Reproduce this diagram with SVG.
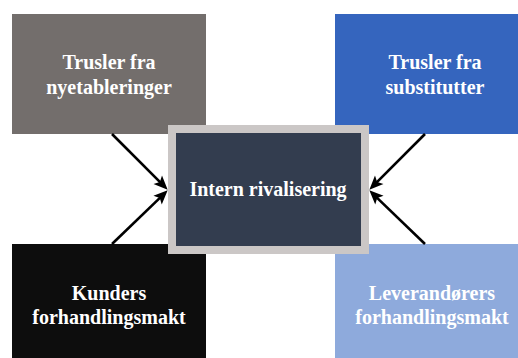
<svg xmlns="http://www.w3.org/2000/svg" width="518" height="358" viewBox="0 0 518 358">
  <defs>
    <style>
      .lbl { font-family: "Liberation Serif", "Times New Roman", serif; font-weight: bold; font-size: 20px; fill: #ffffff; text-anchor: middle; }
      .conn { stroke: #000000; stroke-width: 2.6; fill: none; marker-end: url(#head); }
    </style>
    <marker id="head" markerUnits="userSpaceOnUse" markerWidth="24" markerHeight="24" viewBox="-12 -12 24 24" refX="0" refY="0" orient="auto">
      <path d="M9,0 L-5,-6 L-2,0 L-5,6 Z" fill="#000000"/>
    </marker>
  </defs>
  <rect width="518" height="358" fill="#ffffff"/>

  <g id="nyetableringer">
    <rect x="12" y="14" width="194" height="120" fill="#736e6c"/>
    <text class="lbl" x="109" y="69">Trusler fra</text>
    <text class="lbl" x="109" y="94">nyetableringer</text>
  </g>

  <g id="substitutter">
    <rect x="335" y="14" width="194" height="120" fill="#3565be"/>
    <text class="lbl" x="435" y="69">Trusler fra</text>
    <text class="lbl" x="435" y="94">substitutter</text>
  </g>

  <g id="kunder">
    <rect x="12" y="244" width="194" height="120" fill="#0d0d0d"/>
    <text class="lbl" x="109" y="300">Kunders</text>
    <text class="lbl" x="109" y="324">forhandlingsmakt</text>
  </g>

  <g id="leverandorer">
    <rect x="335" y="244" width="194" height="120" fill="#8eaadc"/>
    <text class="lbl" x="432" y="300">Leverandørers</text>
    <text class="lbl" x="432" y="324">forhandlingsmakt</text>
  </g>

  <g id="intern">
    <rect x="172" y="129" width="193" height="121" fill="#333d4f" stroke="#cbc7c6" stroke-width="8"/>
    <text class="lbl" x="268" y="196">Intern rivalisering</text>
  </g>

  <g id="connectors">
    <line class="conn" x1="112" y1="134" x2="161.3" y2="183.3"/>
    <line class="conn" x1="112" y1="244" x2="161.2" y2="196.6"/>
    <line class="conn" x1="425" y1="134" x2="375.7" y2="183.3"/>
    <line class="conn" x1="425" y1="244" x2="375.8" y2="196.6"/>
  </g>
</svg>
